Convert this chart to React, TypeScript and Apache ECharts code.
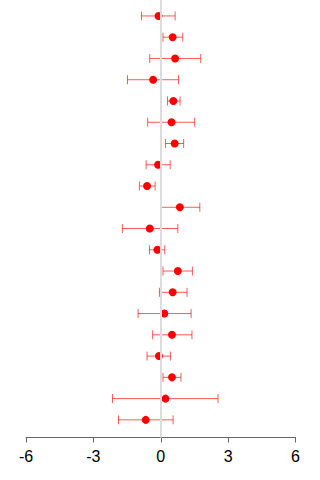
import React, { useEffect, useRef } from "react";
import * as echarts from "echarts";

// Row estimates (top row first) with lower and upper interval bounds
const estimates = [
  -0.1, 0.53, 0.64, -0.34, 0.56, 0.48, 0.62, -0.12, -0.61, 0.85,
  -0.49, -0.15, 0.76, 0.53, 0.16, 0.5, -0.08, 0.5, 0.21, -0.67,
];
const lowerBounds = [
  -0.86, 0.1, -0.49, -1.48, 0.3, -0.58, 0.21, -0.65, -0.95, -0.01,
  -1.71, -0.5, 0.1, -0.06, -1.01, -0.36, -0.61, 0.1, -2.15, -1.88,
];
const upperBounds = [
  0.64, 0.98, 1.78, 0.79, 0.86, 1.51, 1.02, 0.42, -0.25, 1.74,
  0.76, 0.18, 1.41, 1.17, 1.35, 1.39, 0.43, 0.9, 2.55, 0.55,
];
const xTicks = [-6, -3, 0, 3, 6];

export default function App() {
  const ref = useRef<HTMLDivElement>(null);

  useEffect(() => {
    if (!ref.current) return;
    const chart = echarts.init(ref.current, null, { renderer: "svg" });

    const rows = estimates.map((v, i) => i + 1);
    const pointData = estimates.map((v, i) => [v, rows[i]]);
    const intervalData = estimates.map((v, i) => [lowerBounds[i], upperBounds[i], rows[i]]);

    chart.setOption({
      animation: false,
      grid: { left: 26, right: 24.5, top: 0, bottom: 42.5 },
      xAxis: {
        type: "value",
        min: xTicks[0],
        max: xTicks[xTicks.length - 1],
        interval: 3,
        splitLine: { show: false },
        axisLine: { show: true, lineStyle: { color: "#666", width: 1 } },
        axisTick: { show: true, length: 5, lineStyle: { color: "#666" } },
        axisLabel: {
          fontSize: 16,
          color: "#000",
          margin: 11,
          fontFamily: "Liberation Sans, Arial, sans-serif",
        },
      },
      yAxis: {
        type: "value",
        inverse: true,
        min: 0.25,
        max: 20.83,
        show: false,
        splitLine: { show: false },
      },
      series: [
        {
          type: "scatter",
          data: [],
          z: 1,
          silent: true,
          markLine: {
            silent: true,
            symbol: "none",
            label: { show: false },
            lineStyle: { color: "#dcdcdc", width: 2, type: "solid" },
            data: [{ xAxis: 0 }],
          },
        },
        {
          type: "custom",
          z: 2,
          data: intervalData,
          renderItem: (params: any, api: any) => {
            const lo = api.coord([api.value(0), api.value(2)]);
            const hi = api.coord([api.value(1), api.value(2)]);
            const cap = 4.5;
            const style = { stroke: "rgba(255,0,0,0.65)", lineWidth: 1, fill: "none" };
            return {
              type: "group",
              children: [
                { type: "line", shape: { x1: lo[0], y1: lo[1], x2: hi[0], y2: hi[1] }, style },
                { type: "line", shape: { x1: lo[0], y1: lo[1] - cap, x2: lo[0], y2: lo[1] + cap }, style },
                { type: "line", shape: { x1: hi[0], y1: hi[1] - cap, x2: hi[0], y2: hi[1] + cap }, style },
              ],
            };
          },
        },
        {
          type: "scatter",
          z: 3,
          data: pointData,
          symbol: "circle",
          symbolSize: 8,
          itemStyle: { color: "#ff0000", opacity: 1 },
        },
      ],
    });

    return () => chart.dispose();
  }, []);

  return <div ref={ref} style={{ width: 320, height: 480, position: "absolute", left: 0, top: 0 }} />;
}
